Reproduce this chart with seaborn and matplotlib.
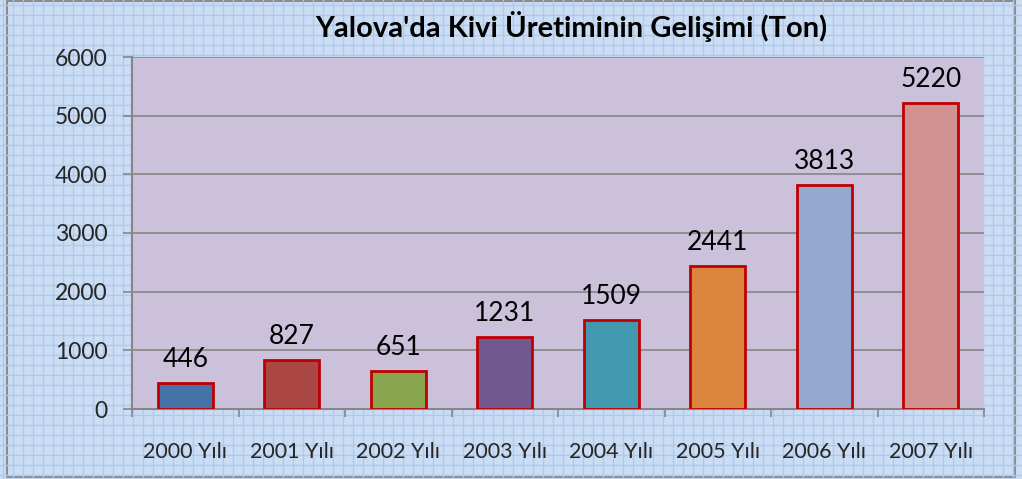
import numpy as np
import pandas as pd
import matplotlib
matplotlib.use('Agg')
import matplotlib.pyplot as plt
import seaborn as sns

# ---- data ---- #
years = ['2000 Yılı', '2001 Yılı', '2002 Yılı', '2003 Yılı',
         '2004 Yılı', '2005 Yılı', '2006 Yılı', '2007 Yılı']
production = [446, 827, 651, 1231, 1509, 2441, 3813, 5220]
bar_colors = ['#4572A7', '#AA4643', '#89A54E', '#71588F',
              '#4198AF', '#DB843D', '#93A9CF', '#D19392']
title = "Yalova'da Kivi Üretiminin Gelişimi (Ton)"

df = pd.DataFrame({'year': years, 'ton': production})

sns.set_theme(style='white')
plt.rcParams['font.family'] = ['Lato', 'DejaVu Sans']

W, H = 1022, 479
fig = plt.figure(figsize=(W / 100, H / 100), dpi=100)
fig.patch.set_facecolor('#cbddf4')

# ---- patterned background (fine blue grid) ---- #
bg = fig.add_axes([0, 0, 1, 1], zorder=-10)
bg.set_xlim(0, W)
bg.set_ylim(H, 0)
bg.axis('off')
for x in np.arange(3, W, 10):
    bg.axvline(x, color='#adc9ee', lw=1.0)
for y in np.arange(5, H, 10):
    bg.axhline(y, color='#adc9ee', lw=1.0)
bg.add_patch(plt.Rectangle((7, 0.5), 1008, 476, fill=False, ec='#8c8c8c', lw=1.5))

# ---- main chart ---- #
ax = fig.add_axes([132 / W, 1 - 409 / H, (984 - 132) / W, (409 - 57) / H])
ax.set_facecolor('#ccc1da')

sns.barplot(data=df, x='year', y='ton', hue='year', palette=bar_colors,
            legend=False, width=0.52, edgecolor='#c00000', linewidth=2,
            saturation=1, ax=ax, zorder=3)

ax.set_ylim(0, 6000)
ax.set_yticks(range(0, 6001, 1000))
ax.set_xlim(-0.5, len(years) - 0.5)
ax.yaxis.grid(True, color='#868686', lw=1.2)
ax.set_axisbelow(True)
ax.set_xlabel('')
ax.set_ylabel('')

for s in ['top', 'right']:
    ax.spines[s].set_visible(False)
for s in ['left', 'bottom']:
    ax.spines[s].set_color('#868686')
    ax.spines[s].set_linewidth(1.5)

ax.tick_params(axis='y', which='major', length=6.5, color='#868686', width=1.2,
               labelsize=16.5, pad=11, left=True)
ax.tick_params(axis='x', which='major', length=0, labelsize=15.5, pad=24)
ax.set_xticks(np.arange(-0.5, len(years), 1), minor=True)
ax.tick_params(axis='x', which='minor', length=6, color='#868686', width=1.2,
               bottom=True, direction='out')

for i, v in enumerate(production):
    ax.annotate(str(v), (i, v), xytext=(0, 8), textcoords='offset points',
                ha='center', va='bottom', fontsize=19, color='black')

fig.text(571 / W, 1 - 27 / H, title, ha='center', va='center',
         fontsize=21, fontweight='bold', color='black')

fig.savefig('out.png', dpi=100, facecolor=fig.get_facecolor())
